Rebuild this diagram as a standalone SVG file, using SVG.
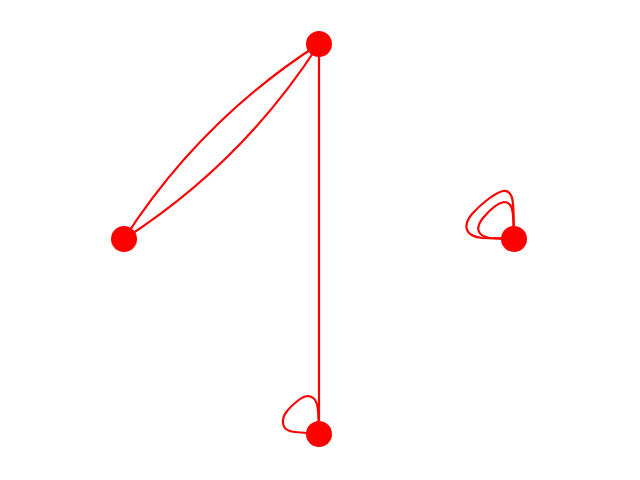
<svg xmlns="http://www.w3.org/2000/svg" width="640" height="480" viewBox="0 0 640 480">
<style>
.e{fill:none;stroke:#ff0000;stroke-width:2.2;stroke-linejoin:round}
.n{fill:#ff0000}
</style>
<rect width="640" height="480" fill="#ffffff"/>
<g id="edges">
<path class="e" d="M124,239 Q200.3,120.3 319,44"/>
<path class="e" d="M124,239 Q242.7,162.7 319,44"/>
<path class="e" d="M319,44 L319,434"/>
<path class="e" d="M319,434 C318,412 320,397 308,396 C302,396 292,405 287,411 C281,419 280,431 295,432 L319,434"/>
<path class="e" d="M514,239 C513,210 516,189 503,191 C494,193 479,206 472,214 C463,225 464,236 482,238 L514,239"/>
<path class="e" d="M514,239 C513,218 515,202 504,202 C497,203 488,212 483,218 C475,228 477,236 490,238 L514,239"/>
</g>
<g id="node0"><circle class="n" cx="319" cy="44" r="13"/></g>
<g id="node1"><circle class="n" cx="124" cy="239" r="13"/></g>
<g id="node2"><circle class="n" cx="514" cy="239" r="13"/></g>
<g id="node3"><circle class="n" cx="319" cy="434" r="13"/></g>
</svg>
